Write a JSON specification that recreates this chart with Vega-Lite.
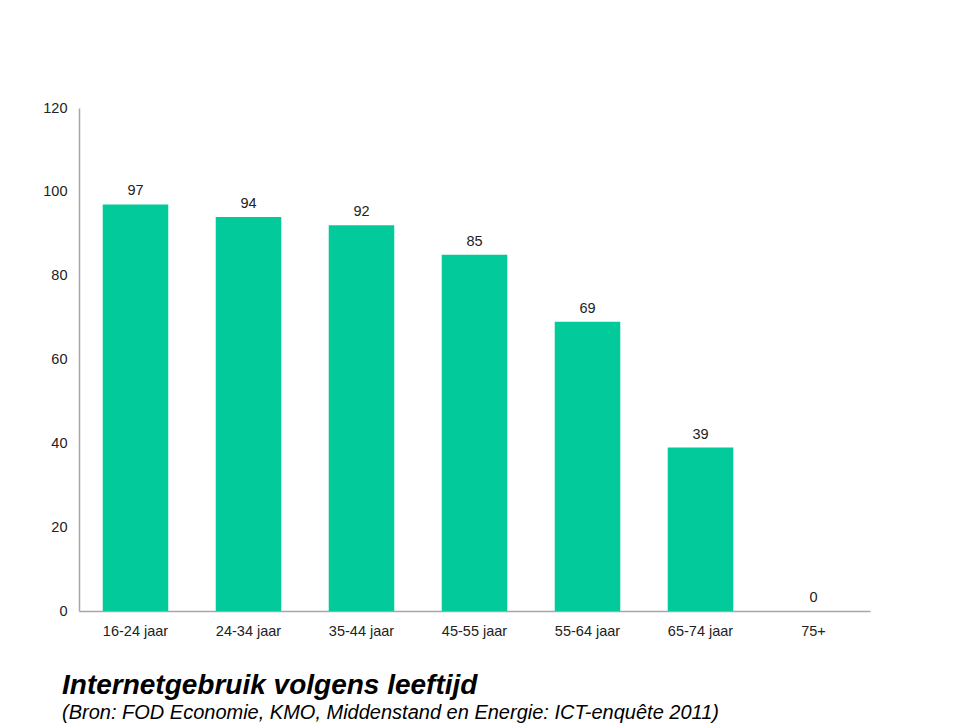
{
  "$schema": "https://vega.github.io/schema/vega-lite/v6.json",
  "width": 791,
  "height": 503,
  "autosize": {"type": "none"},
  "padding": {"left": 79, "top": 108, "right": 90, "bottom": 117},
  "background": "white",
  "config": {
    "view": {"stroke": null},
    "font": "Liberation Sans"
  },
  "title": {
    "text": "Internetgebruik volgens leeftijd",
    "subtitle": "(Bron: FOD Economie, KMO, Middenstand en Energie: ICT-enquête 2011)",
    "orient": "bottom",
    "anchor": "start",
    "frame": "group",
    "dx": -17,
    "offset": 34,
    "fontSize": 28,
    "fontStyle": "italic",
    "fontWeight": "bold",
    "color": "#000000",
    "subtitleFontSize": 20,
    "subtitleFontStyle": "italic",
    "subtitleColor": "#000000",
    "subtitlePadding": 3
  },
  "data": {
    "values": [
      {"leeftijd": "16-24 jaar", "waarde": 97},
      {"leeftijd": "24-34 jaar", "waarde": 94},
      {"leeftijd": "35-44 jaar", "waarde": 92},
      {"leeftijd": "45-55 jaar", "waarde": 85},
      {"leeftijd": "55-64 jaar", "waarde": 69},
      {"leeftijd": "65-74 jaar", "waarde": 39},
      {"leeftijd": "75+", "waarde": 0}
    ]
  },
  "encoding": {
    "x": {
      "field": "leeftijd",
      "type": "nominal",
      "sort": null,
      "scale": {"paddingInner": 0.42, "paddingOuter": 0.21},
      "axis": {
        "title": null,
        "labelAngle": 0,
        "ticks": false,
        "labelFontSize": 14.5,
        "labelColor": "#222222",
        "labelPadding": 13,
        "domainColor": "#a6a6a6",
        "domainWidth": 1.5
      }
    },
    "y": {
      "field": "waarde",
      "type": "quantitative",
      "scale": {"domain": [0, 120], "nice": false},
      "axis": {
        "title": null,
        "values": [0, 20, 40, 60, 80, 100, 120],
        "grid": false,
        "ticks": false,
        "labelFontSize": 14.5,
        "labelColor": "#222222",
        "labelPadding": 12,
        "domainColor": "#a6a6a6",
        "domainWidth": 1.5
      }
    }
  },
  "layer": [
    {"mark": {"type": "bar", "color": "#02CA9A"}},
    {
      "mark": {"type": "text", "baseline": "alphabetic", "dy": -9, "fontSize": 14.5, "color": "#222222"},
      "encoding": {"text": {"field": "waarde", "type": "quantitative"}}
    }
  ]
}
